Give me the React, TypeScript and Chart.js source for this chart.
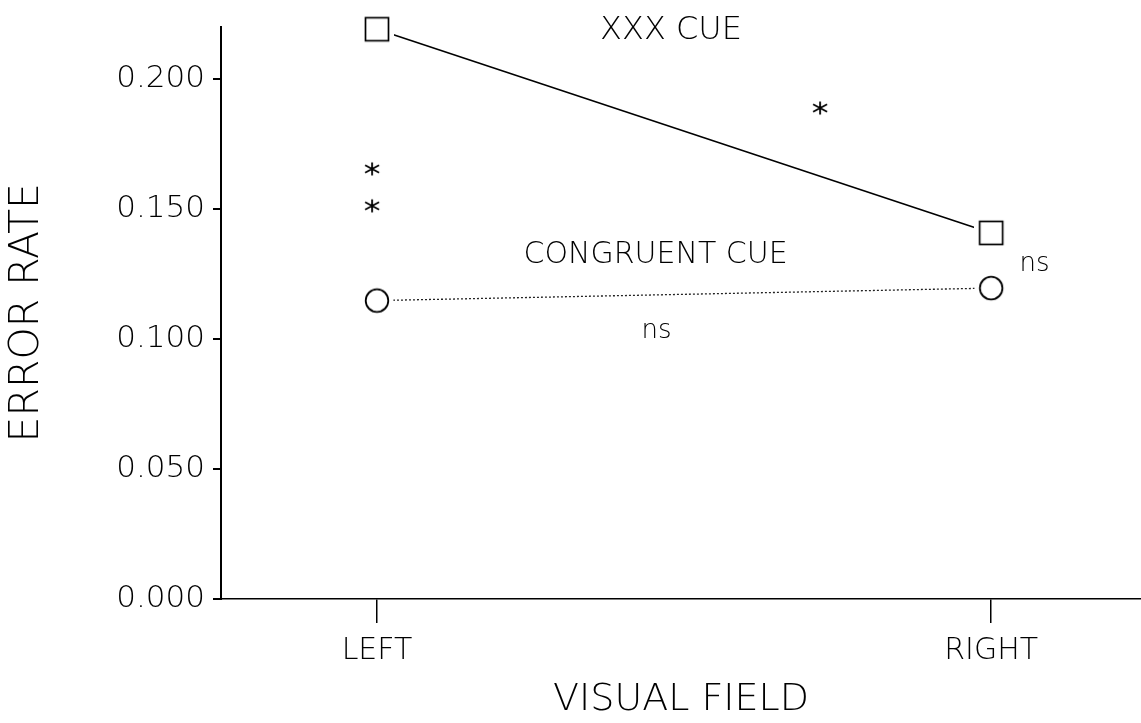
import React, { useEffect, useRef } from "react";
import { Chart, registerables } from "chart.js";

Chart.register(...registerables);

// ---- data ----
const visualFields: string[] = ["LEFT", "RIGHT"];
const fieldPositions: number[] = [1, 2];
const xxxCueErrorRate: number[] = [0.219, 0.1407];
const congruentCueErrorRate: number[] = [0.1147, 0.1195];
const yTickValues: number[] = [0, 0.05, 0.1, 0.15, 0.2];
const sigStarX: number[] = [0.992, 0.992, 1.7215];
const sigStarY: number[] = [0.1653, 0.1511, 0.1887];
const noteTexts: string[] = ["XXX CUE", "CONGRUENT CUE", "ns", "ns"];
const noteX: number[] = [1.4788, 1.4536, 2.0708, 1.4552];
const noteY: number[] = [0.2151, 0.1292, 0.1262, 0.1005];

const FONT = "'DejaVu Sans', 'Liberation Sans', sans-serif";
const WEIGHT = "200";

function makeSquare(): HTMLCanvasElement {
  const c = document.createElement("canvas");
  c.width = 34;
  c.height = 34;
  const g = c.getContext("2d")!;
  g.fillStyle = "#fff";
  g.fillRect(0, 0, 34, 34);
  g.strokeStyle = "#000";
  g.lineWidth = 1.7;
  g.strokeRect(5.5, 5.5, 23, 23);
  return c;
}

function makeCircle(): HTMLCanvasElement {
  const c = document.createElement("canvas");
  c.width = 34;
  c.height = 34;
  const g = c.getContext("2d")!;
  g.fillStyle = "#fff";
  g.beginPath();
  g.arc(17, 17, 16.5, 0, Math.PI * 2);
  g.fill();
  g.strokeStyle = "#000";
  g.lineWidth = 1.8;
  g.beginPath();
  g.arc(17, 17, 11.3, 0, Math.PI * 2);
  g.stroke();
  return c;
}

function makeStar(): HTMLCanvasElement {
  const c = document.createElement("canvas");
  c.width = 18;
  c.height = 16;
  const g = c.getContext("2d")!;
  g.strokeStyle = "#000";
  g.lineWidth = 1.8;
  g.beginPath();
  g.moveTo(9, 1.5);
  g.lineTo(9, 14.5);
  g.moveTo(2, 4.3);
  g.lineTo(16, 11.7);
  g.moveTo(2, 11.7);
  g.lineTo(16, 4.3);
  g.stroke();
  return c;
}

const noteFontSizes = [32, 30, 26, 26];

const notesPlugin = {
  id: "notes",
  afterDatasetsDraw(chart: any) {
    const { ctx, scales } = chart;
    ctx.save();
    ctx.fillStyle = "#000";
    ctx.textAlign = "center";
    ctx.textBaseline = "alphabetic";
    noteTexts.forEach((t, i) => {
      ctx.font = `${WEIGHT} ${noteFontSizes[i]}px ${FONT}`;
      const px = scales.x.getPixelForValue(noteX[i]);
      const py = scales.y.getPixelForValue(noteY[i]);
      ctx.fillText(t, px, py);
    });
    ctx.restore();
  },
};

export default function App() {
  const ref = useRef<HTMLCanvasElement | null>(null);

  useEffect(() => {
    if (!ref.current) return;
    const square = makeSquare();
    const circle = makeCircle();
    const star = makeStar();
    const chart = new Chart(ref.current, {
      type: "line",
      data: {
        datasets: [
          {
            label: "XXX CUE",
            data: fieldPositions.map((x, i) => ({ x, y: xxxCueErrorRate[i] })),
            borderColor: "#000",
            borderWidth: 1.6,
            pointStyle: square as any,
            clip: false as any,
            order: 1,
          },
          {
            label: "CONGRUENT CUE",
            data: fieldPositions.map((x, i) => ({ x, y: congruentCueErrorRate[i] })),
            borderColor: "#222",
            borderWidth: 1.3,
            borderDash: [2, 2],
            pointStyle: circle as any,
            clip: false as any,
            order: 2,
          },
          {
            label: "significance",
            data: sigStarX.map((x, i) => ({ x, y: sigStarY[i] })),
            showLine: false,
            pointStyle: star as any,
            clip: false as any,
            order: 3,
          },
        ],
      },
      options: {
        responsive: false,
        animation: false,
        events: [],
        layout: { autoPadding: false, padding: { top: 25, left: 0, right: 0, bottom: 0 } },
        plugins: {
          legend: { display: false },
          tooltip: { enabled: false },
        },
        scales: {
          x: {
            type: "linear",
            min: 0.746,
            max: 2.244,
            afterFit: (s: any) => {
              s.height = 124;
            },
            afterBuildTicks: (s: any) => {
              s.ticks = fieldPositions.map((v) => ({ value: v }));
            },
            ticks: {
              callback: (_v: any, i: number) => visualFields[i] ?? "",
              font: { family: FONT, size: 30, weight: WEIGHT as any },
              color: "#000",
              padding: 10,
              maxRotation: 0,
              autoSkip: false,
            },
            grid: {
              drawOnChartArea: false,
              drawTicks: true,
              tickLength: 24,
              color: "#000",
              lineWidth: 1.5,
            },
            border: { display: true, color: "#000", width: 1.5 },
            title: {
              display: true,
              text: "VISUAL FIELD",
              color: "#000",
              font: { family: FONT, size: 38, weight: WEIGHT as any },
              padding: { top: 0, bottom: 0 },
            },
          },
          y: {
            type: "linear",
            min: 0,
            max: 0.22,
            afterFit: (s: any) => {
              s.width = 221;
            },
            afterBuildTicks: (s: any) => {
              s.ticks = yTickValues.map((v) => ({ value: v }));
            },
            ticks: {
              callback: (v: any) => Number(v).toFixed(3),
              font: { family: FONT, size: 31, weight: WEIGHT as any },
              color: "#000",
              padding: 8,
            },
            grid: {
              drawOnChartArea: false,
              drawTicks: true,
              tickLength: 8,
              color: "#000",
              lineWidth: 2,
            },
            border: { display: true, color: "#000", width: 2 },
            title: {
              display: true,
              text: "ERROR RATE",
              color: "#000",
              font: { family: FONT, size: 41, weight: WEIGHT as any },
              padding: { top: 3, bottom: 0 },
            },
          },
        },
      },
      plugins: [notesPlugin],
    });
    return () => chart.destroy();
  }, []);

  return (
    <div
      style={{
        position: "fixed",
        left: 0,
        top: 0,
        width: 1141,
        height: 723,
        background: "#fff",
      }}
    >
      <canvas ref={ref} width={1141} height={723} />
    </div>
  );
}
